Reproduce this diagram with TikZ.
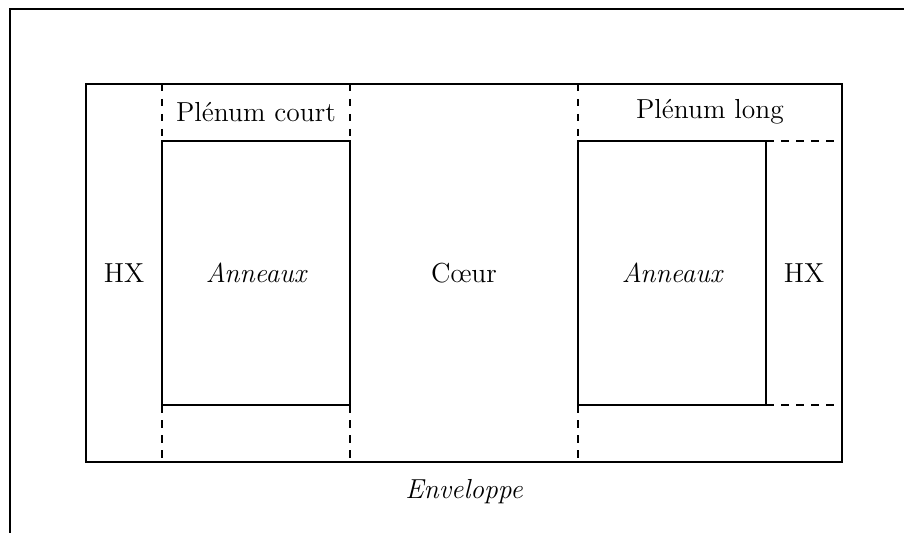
\documentclass[tikz,border=0pt]{standalone}
\usepackage{tikz}

\begin{document}
\begin{tikzpicture}[x=0.4pt, y=-0.4pt, line width=0.9pt,
  lbl/.style={font=\fontsize{11}{13}\selectfont},
  ital/.style={font=\fontsize{11}{13}\selectfont\itshape}]
  \useasboundingbox (0,0) rectangle (904,532);
  \clip (0,0) rectangle (904,532);
  % enveloppe et cuve
  \draw (10,9) rectangle (920,550);
  \draw (86,84) rectangle (842,462);
  % anneau court
  \draw (162,141) rectangle (350,405);
  \draw[dashed] (162,84) -- (162,141) (350,84) -- (350,141);
  \draw[dashed] (162,405) -- (162,462) (350,405) -- (350,462);
  % anneau long
  \draw (578,141) rectangle (766,405);
  \draw[dashed] (578,84) -- (578,141) (578,405) -- (578,462);
  \draw[dashed] (766,141) -- (842,141) (766,405) -- (842,405);
  % textes
  \node[lbl] (plc) at (256,112) {Plénum court};
  \node[lbl] (pll) at (710,112) {Plénum long};
  \node[lbl] (hxa) at (124,273) {HX};
  \node[ital] (ana) at (256,273) {Anneaux};
  \node[lbl] (coeur) at (464,273) {Cœur};
  \node[ital] (anb) at (672,273) {Anneaux};
  \node[lbl] (hxb) at (804,273) {HX};
  \node[ital] (env) at (464,492) {Enveloppe};
\end{tikzpicture}
\end{document}
